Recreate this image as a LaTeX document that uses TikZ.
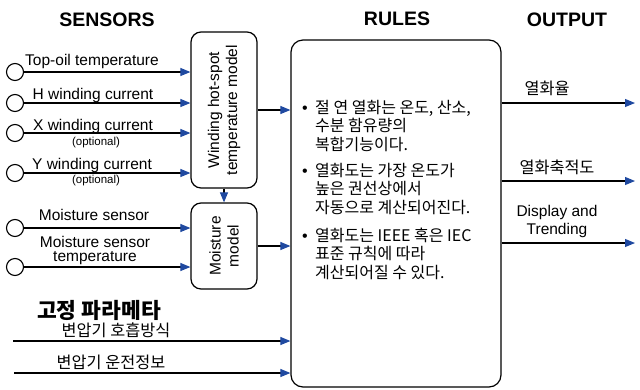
\documentclass[tikz,border=0pt]{standalone}
\usepackage{fontspec}
\setmainfont{Liberation Sans}
\newfontfamily\kr{Noto Sans CJK KR}
\usetikzlibrary{arrows.meta}
\definecolor{tipblue}{RGB}{31,73,160}
\newcommand{\rulebullet}{\makebox[13pt][l]{\rmfamily\textbullet}}
\newcommand{\ruleindent}{\makebox[13pt]{}}

\begin{document}
\begin{tikzpicture}[
    x=1pt, y=-1pt,
    model/.style = {draw, rounded corners=10pt, line width=1.2pt, minimum width=66pt, minimum height=#1},
    model/.default=86pt,
    sensor/.style = {draw, circle, line width=1.1pt, minimum size=17pt, inner sep=0pt},
    head/.style = {font=\fontsize{19.5}{22}\selectfont\bfseries, anchor=base, inner sep=0pt},
    lbl/.style = {font=\fontsize{15.5}{16}\selectfont, anchor=base, inner sep=0pt},
    small/.style = {font=\fontsize{11.5}{13}\selectfont, anchor=base, inner sep=0pt},
    krlbl/.style = {font=\kr\fontsize{16.3}{18}\selectfont, anchor=base, inner sep=0pt},
    rule/.style = {font=\kr\fontsize{16}{18.5}\selectfont, anchor=base west, align=left, inner sep=0pt},
    flow/.style = {->, line width=1.1pt},
    >={Triangle[length=10pt, width=8pt, color=tipblue]}
  ]
  \useasboundingbox (0,0) rectangle (640,389);

  % headings
  \node[head] (Hsens) at (107,26) {SENSORS};
  \node[head] (Hrules) at (397,25) {RULES};
  \node[head] (Hout) at (567,26) {OUTPUT};

  % models
  \node[model=156pt] (HS) at (224,110) {};
  \node[rotate=90, align=center, font=\fontsize{15.5}{18}\selectfont] (HStext) at (HS) {Winding hot-spot\\temperature model};
  \node[model] (MS) at (224,246) {};
  \node[rotate=90, align=center, font=\fontsize{15.5}{18}\selectfont] (MStext) at (MS) {Moisture\\model};

  % rules (base = last line)
  \node[draw, rounded corners=12pt, line width=1.2pt, minimum width=210pt, minimum height=347pt] (R) at (396,213.5) {};
  \node[rule] (R1) at (302,150) {\rulebullet 절 연 열화는 온도, 산소,\\\ruleindent 수분 함유량의\\\ruleindent 복합기능이다.};
  \node[rule] (R2) at (302,213) {\rulebullet 열화도는 가장 온도가\\\ruleindent 높은 권선상에서\\\ruleindent 자동으로 계산되어진다.};
  \node[rule] (R3) at (302,278) {\rulebullet 열화도는 IEEE 혹은 IEC\\\ruleindent 표준 규칙에 따라\\\ruleindent 계산되어질 수 있다.};

  % sensors
  \node[sensor] (S1) at (15,72) {};
  \node[sensor] (S2) at (15,103) {};
  \node[sensor] (S3) at (15,133) {};
  \node[sensor] (S4) at (15,173) {};
  \node[sensor] (S5) at (15,228) {};
  \node[sensor] (S6) at (15,267) {};

  \node[lbl] (L1) at (92,65) {Top-oil temperature};
  \node[lbl] (L2) at (93,99) {H winding current};
  \node[lbl] (L3) at (93,130) {X winding current};
  \node[small] (L3o) at (96,145) {(optional)};
  \node[lbl] (L4) at (92,169) {Y winding current};
  \node[small] (L4o) at (96,183) {(optional)};
  \node[lbl] (L5) at (94,220) {Moisture sensor};
  \node[lbl, align=center, font=\fontsize{15.5}{14}\selectfont] (L6) at (95,261) {Moisture sensor\\temperature};

  \draw[flow] (S1) -- (S1 -| HS.west);
  \draw[flow] (S2) -- (S2 -| HS.west);
  \draw[flow] (S3) -- (S3 -| HS.west);
  \draw[flow] (S4) -- (S4 -| HS.west);
  \draw[flow] (S5) -- (S5 -| MS.west);
  \draw[flow] (S6) -- (S6 -| MS.west);

  \draw[flow] (HS) -- (MS);
  \draw[flow] (HS) -- (HS -| R.west);
  \draw[flow] (MS) -- (MS -| R.west);

  % fixed parameters
  \node[krlbl, font=\kr\fontsize{21.5}{24}\selectfont\bfseries] (P) at (99,318) {고정 파라메타};
  \node[krlbl] (P1) at (116,336) {변압기 호흡방식};
  \node[krlbl] (P2) at (111,368) {변압기 운전정보};
  \coordinate (P1s) at (13,341);
  \coordinate (P2s) at (14,373);
  \draw[flow] (P1s) -- (P1s -| R.west);
  \draw[flow] (P2s) -- (P2s -| R.west);

  % outputs
  \coordinate (O1) at (635,103);
  \coordinate (O2) at (635,181);
  \coordinate (O3) at (635,243);
  \draw[flow] (O1 -| R.east) -- (O1);
  \draw[flow] (O2 -| R.east) -- (O2);
  \draw[flow] (O3 -| R.east) -- (O3);
  \node[krlbl] (T1) at (547,94) {열화율};
  \node[krlbl] (T2) at (557,173) {열화축적도};
  \node[lbl, align=center, font=\fontsize{15.5}{18}\selectfont] (T3) at (557,234) {Display and\\Trending};
\end{tikzpicture}
\end{document}
